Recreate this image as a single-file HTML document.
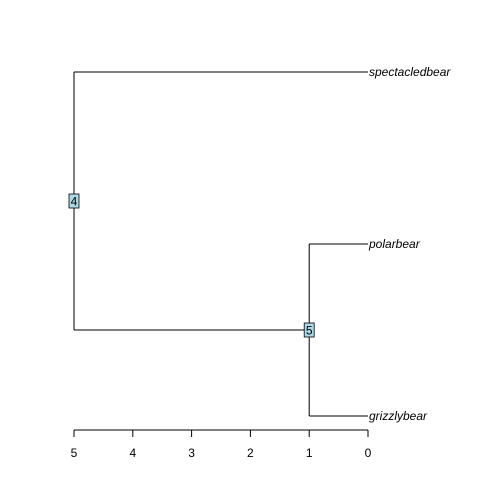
<!DOCTYPE html>
<html><head><meta charset="utf-8"><style>body{margin:0;background:#fff}svg{display:block}text{font-family:"Liberation Sans",sans-serif}</style></head>
<body>
<svg id="c" width="504" height="504" xmlns="http://www.w3.org/2000/svg"></svg>
<script>
const tipNames=["spectacledbear","polarbear","grizzlybear"];
const tipY=[1,2,3];
const nodeLabels=["4","5"];
const nodeTimes=[5,1];
const ticks=[5,4,3,2,1,0];
const X=t=>368-t*(294/5);
const Y=i=>72+(i-1)*172;
const s=document.getElementById('c');
const NS="http://www.w3.org/2000/svg";
function mk(tag,attrs,txt){const e=document.createElementNS(NS,tag);for(const k in attrs)e.setAttribute(k,attrs[k]);if(txt!==undefined)e.textContent=txt;s.appendChild(e);return e;}
const y5=(Y(tipY[1])+Y(tipY[2]))/2;
const y4=(Y(tipY[0])+y5)/2;
const segs=[[X(nodeTimes[0]),Y(tipY[0]),X(nodeTimes[0]),y5],[X(nodeTimes[0]),Y(tipY[0]),X(0),Y(tipY[0])],[X(nodeTimes[0]),y5,X(nodeTimes[1]),y5],[X(nodeTimes[1]),Y(tipY[1]),X(nodeTimes[1]),Y(tipY[2])],[X(nodeTimes[1]),Y(tipY[1]),X(0),Y(tipY[1])],[X(nodeTimes[1]),Y(tipY[2]),X(0),Y(tipY[2])]];
segs.forEach((g,i)=>{const l=mk('line',{x1:g[0],y1:g[1],x2:g[2],y2:g[3],stroke:'#000','stroke-width':1});

});
tipNames.forEach((n,i)=>{const t=mk('text',{x:X(0)+1,y:Y(tipY[i])+4,'font-size':12,'font-style':'italic'},n);

});
[[X(nodeTimes[0]),y4],[X(nodeTimes[1]),y5]].forEach((p,i)=>{
const r=mk('rect',{x:p[0]-5,y:p[1]-7,width:10,height:14,fill:'#ADD8E6',stroke:'#000','stroke-width':0.8});


const t=mk('text',{x:p[0],y:p[1]+4.5,'font-size':12,'text-anchor':'middle'},nodeLabels[i]);

});
const ax=mk('line',{x1:X(5),y1:430,x2:X(0),y2:430,stroke:'#000'});


ticks.forEach(v=>{const tl=mk('line',{x1:X(v),y1:430,x2:X(v),y2:437,stroke:'#000'});


const t=mk('text',{x:X(v),y:457,'font-size':12,'text-anchor':'middle'},String(v));

});
</script>
</body></html>
